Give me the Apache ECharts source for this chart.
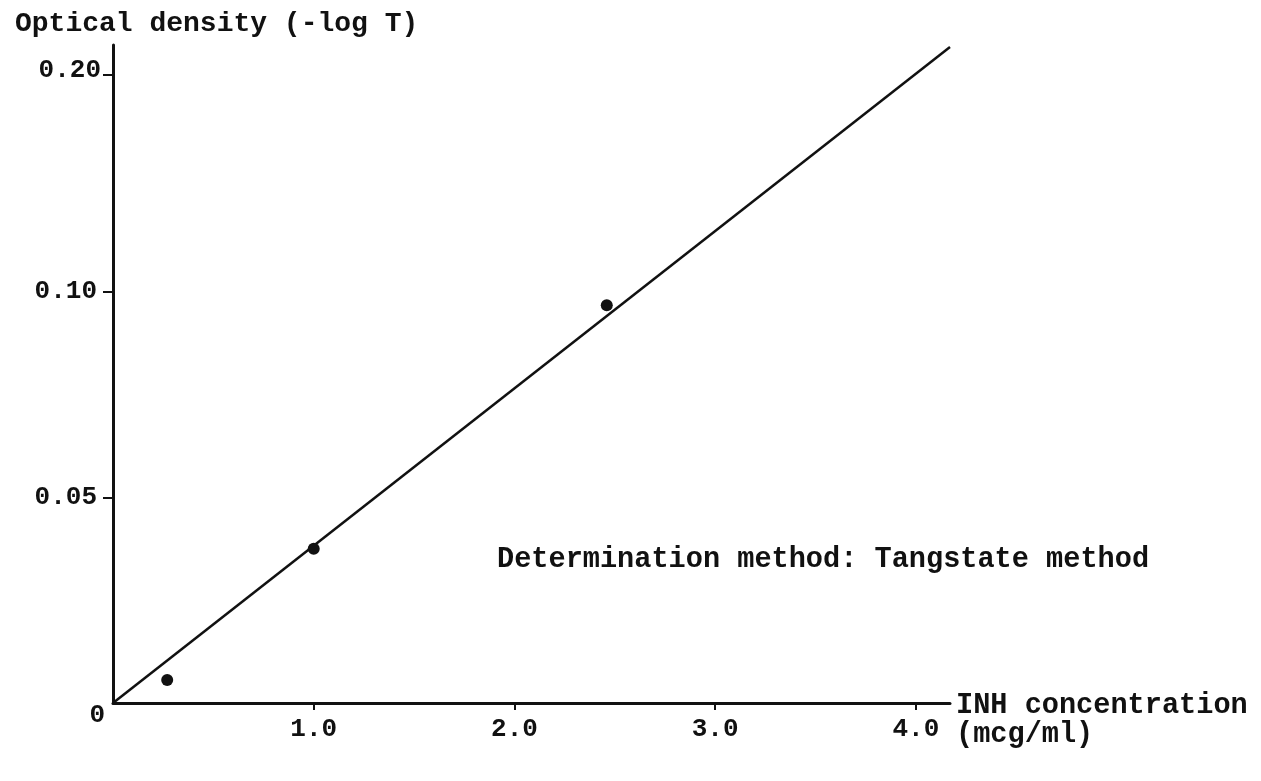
<!DOCTYPE html>
<html>
<head>
<meta charset="utf-8">
<script src="https://cdn.jsdelivr.net/npm/echarts@6/dist/echarts.min.js"></script>
<style>html,body{margin:0;padding:0;background:#fff}#c{width:1261px;height:781px}</style>
</head>
<body>
<div id="c"></div>
<script>
// ---- data ----
var yTitle = 'Optical density (-log T)';
var xTitle = 'INH concentration\n(mcg/ml)';
var note = 'Determination method: Tangstate method';
var xTickValues = [1, 2, 3, 4];
var xTickLabels = ['1.0', '2.0', '3.0', '4.0'];
var yTickValues = [0, 0.05, 0.10, 0.1527];
var yTickLabels = ['0', '0.05', '0.10', '0.20'];
var measuredX = [0.27, 1.0, 2.46];
var measuredY = [0.0056, 0.0375, 0.0967];
var fitX = [0, 4.17];
var fitY = [0, 0.1595];

var FONT = 'Liberation Mono';
var INK = '#111';

function pairs(xs, ys) { return xs.map(function (x, i) { return [x, ys[i]]; }); }

var chart = echarts.init(document.getElementById('c'), null, {renderer: 'canvas'});
chart.setOption({
  backgroundColor: '#fff',
  animation: false,
  title: [{
    text: yTitle, left: 10, top: 5,
    textStyle: {fontFamily: FONT, fontSize: 28, fontWeight: 'bold', color: INK}
  }, {
    text: xTitle, left: 956, top: 691, padding: 0,
    textStyle: {fontFamily: FONT, fontSize: 28.6, fontWeight: 'bold', color: INK, lineHeight: 29}
  }],
  graphic: [{
    type: 'text', left: 497, top: 545,
    style: {text: note, font: 'bold 28.6px "' + FONT + '"', fill: INK}
  }],
  grid: {left: 113, right: 311, top: 45, bottom: 78, containLabel: false},
  xAxis: {
    type: 'value', min: 0, max: 4.17,
    axisLine: {lineStyle: {color: INK, width: 3}},
    axisTick: {show: true, customValues: xTickValues, length: 7, lineStyle: {color: INK, width: 2}},
    axisLabel: {customValues: xTickValues, margin: 13, fontFamily: FONT, fontSize: 26, fontWeight: 'bold', color: INK,
      formatter: function (v) { var i = xTickValues.indexOf(v); return i >= 0 ? xTickLabels[i] : ''; }},
    splitLine: {show: false}
  },
  yAxis: {
    type: 'value', min: 0, max: 0.16,
    axisLine: {show: true, lineStyle: {color: INK, width: 3}},
    axisTick: {show: true, customValues: yTickValues.slice(1), length: 10, lineStyle: {color: INK, width: 2}},
    axisLabel: {customValues: yTickValues, margin: 8, color: INK,
      formatter: function (v) {
        var i = yTickValues.indexOf(v);
        if (i < 0) return '';
        if (i === 0) return '{z|' + yTickLabels[i] + '}';
        if (i === yTickValues.length - 1) return '{t|' + yTickLabels[i] + '}';
        return '{a|' + yTickLabels[i] + '}';
      },
      rich: {
        a: {fontFamily: FONT, fontSize: 26, fontWeight: 'bold', color: INK, padding: [0, 8, 0, 0]},
        t: {fontFamily: FONT, fontSize: 26, fontWeight: 'bold', color: INK, padding: [0, 4, 10, 0]},
        z: {fontFamily: FONT, fontSize: 26, fontWeight: 'bold', color: INK, padding: [24, 0, 0, 0]}
      }
    },
    splitLine: {show: false}
  },
  series: [{
    type: 'line', data: pairs(fitX, fitY), clip: false, symbol: 'none',
    lineStyle: {color: INK, width: 2.5}, z: 2
  }, {
    type: 'scatter', data: pairs(measuredX, measuredY), symbol: 'circle', symbolSize: 12,
    itemStyle: {color: INK, opacity: 1}, z: 3
  }]
});
</script>
</body>
</html>
